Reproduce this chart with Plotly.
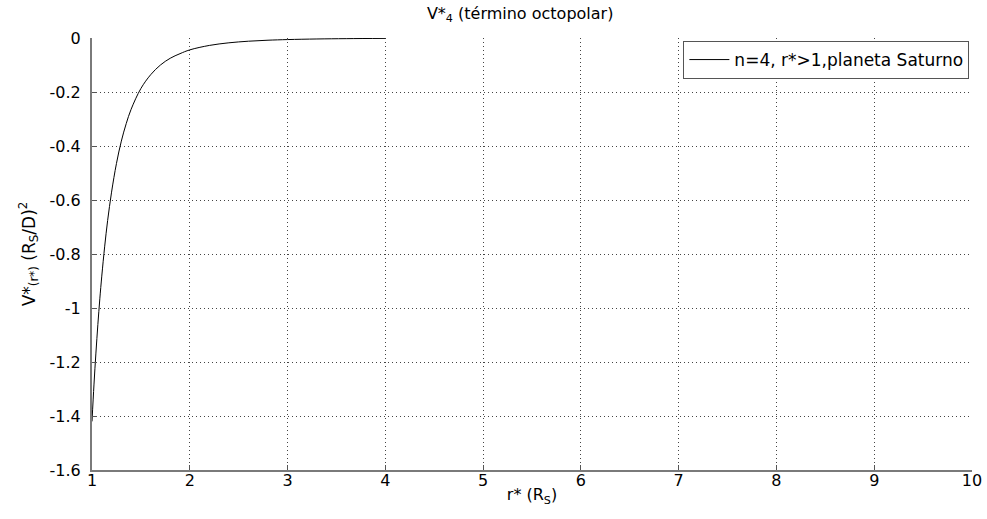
import plotly.graph_objects as go

r_vals = [1.00, 1.02, 1.04, 1.06, 1.08, 1.10, 1.13, 1.16, 1.20, 1.25, 1.30, 1.35, 1.40, 1.50,
          1.60, 1.70, 1.80, 1.90, 2.00, 2.20, 2.40, 2.60, 2.80, 3.00, 3.30, 3.60, 4.00]
v_vals = [-1.42, -1.285, -1.167, -1.061, -0.966, -0.882, -0.771, -0.676, -0.571, -0.465, -0.382,
          -0.317, -0.264, -0.187, -0.136, -0.100, -0.075, -0.058, -0.044, -0.0275, -0.0178,
          -0.0119, -0.0082, -0.0058, -0.0036, -0.0024, -0.0014]

x_ticks = [1, 2, 3, 4, 5, 6, 7, 8, 9, 10]
y_ticks = [0, -0.2, -0.4, -0.6, -0.8, -1, -1.2, -1.4, -1.6]
y_ticktext = ["0", "-0.2", "-0.4", "-0.6", "-0.8", "-1", "-1.2", "-1.4", "-1.6"]

FONT = "DejaVu Sans, Verdana, sans-serif"

fig = go.Figure()
fig.add_trace(go.Scatter(
    x=r_vals, y=v_vals, mode="lines", line=dict(color="black", width=1, shape="spline"),
    name="n=4, r*>1,planeta Saturno"))

axis_common = dict(
    showgrid=True, gridcolor="#444444", griddash="1px,3px", gridwidth=1,
    showline=True, linecolor="#7a7a7a", linewidth=2, mirror=False,
    ticks="inside", ticklen=5, tickcolor="#555555", tickwidth=1,
    zeroline=False, automargin=False,
    tickfont=dict(family=FONT, size=16, color="black"),
)

fig.update_layout(
    width=987, height=519,
    margin=dict(l=92, r=15, t=38, b=49),
    paper_bgcolor="white", plot_bgcolor="white",
    title=dict(text="V*<sub>4</sub> (término octopolar)", x=0.527, xanchor="center",
               yref="container", y=0.975, yanchor="middle",
               font=dict(family=FONT, size=16, color="black")),
    xaxis=dict(range=[1, 10], tickvals=x_ticks, ticklabelstandoff=-5, **axis_common,
               title=dict(text="r* (R<sub>S</sub>)", standoff=0,
                          font=dict(family=FONT, size=16, color="black"))),
    yaxis=dict(range=[-1.6, 0], tickvals=y_ticks, ticktext=y_ticktext, ticklabelstandoff=6,
               **axis_common,
               title=dict(text="V*<sub>(r*)</sub> (R<sub>S</sub>/D)<sup>2</sup>", standoff=10,
                          font=dict(family=FONT, size=17, color="black"))),
    showlegend=True,
    legend=dict(x=0.997, xanchor="right", y=0.993, yanchor="top",
                bgcolor="white", bordercolor="#555555", borderwidth=1,
                font=dict(family=FONT, size=17, color="black"),
                tracegroupgap=0, itemwidth=40),
)

fig.write_html("out.html", config={"displayModeBar": False},
               post_script="document.body.style.margin='0px';")
